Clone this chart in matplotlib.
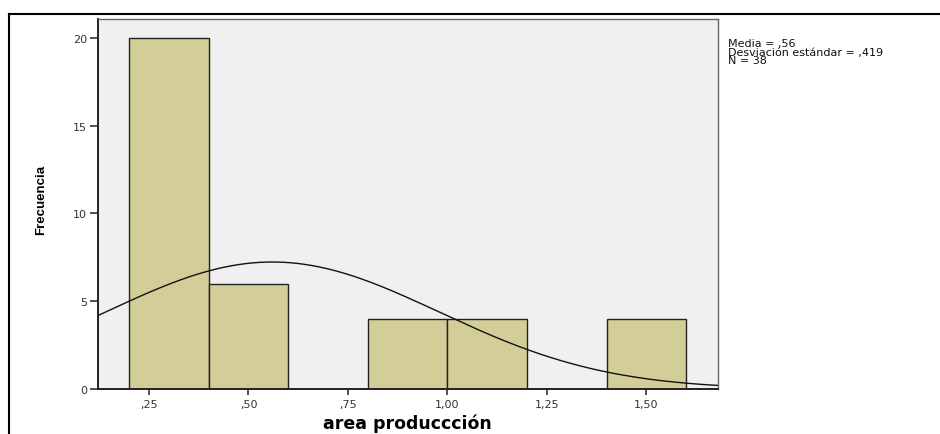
import numpy as np
import matplotlib
matplotlib.use("Agg")
from matplotlib import pyplot as plt
from matplotlib.lines import Line2D

# histogram of area produccion (SPSS style)
bin_edges = [0.2, 0.4, 0.6, 0.8, 1.0, 1.2, 1.4, 1.6]
counts = [20, 6, 0, 4, 4, 0, 4]
media = 0.56
desv = 0.419
n = 38

xticks = [0.25, 0.50, 0.75, 1.00, 1.25, 1.50]
xtick_labels = [",25", ",50", ",75", "1,00", "1,25", "1,50"]
yticks = [0, 5, 10, 15, 20]

plt.rcParams['font.family'] = ['DejaVu Sans']

fig = plt.figure(figsize=(9.4, 4.35), dpi=100)
ax = fig.add_axes([0.1043, 0.1034, 0.6592, 0.8506])
ax.set_facecolor('#F0F0F0')

lefts = np.array(bin_edges[:-1])
widths = np.diff(bin_edges)
for l, w, c in zip(lefts, widths, counts):
    if c > 0:
        ax.bar(l, c, width=w, align='edge', color='#D3CE97',
               edgecolor='#222222', linewidth=1.0, zorder=2)

# normal curve scaled to counts
xmin, xmax = 0.122, 1.679
xs = np.linspace(xmin, xmax, 300)
bw = bin_edges[1] - bin_edges[0]
ys = n * bw * np.exp(-0.5 * ((xs - media) / desv) ** 2) / (desv * np.sqrt(2 * np.pi))
ax.plot(xs, ys, color='#111111', linewidth=1.0, zorder=3)

ax.set_xlim(xmin, xmax)
ax.set_ylim(0, 21.08)
ax.set_xticks(xticks)
ax.set_xticklabels(xtick_labels)
ax.set_yticks(yticks)
ax.tick_params(axis='both', labelsize=8, colors='#333333', width=1.2)
ax.tick_params(axis='x', pad=3, length=4)
ax.tick_params(axis='y', pad=2, length=6)

for side in ['left', 'bottom']:
    ax.spines[side].set_linewidth(1.4)
    ax.spines[side].set_color('#222222')
for side in ['top', 'right']:
    ax.spines[side].set_linewidth(1.0)
    ax.spines[side].set_color('#666666')

ax.set_xlabel('area produccción', fontsize=12.5, fontweight='bold')
ax.xaxis.set_label_coords(0.5, -0.066)
ax.set_ylabel('Frecuencia', fontsize=9.5, fontweight='bold',
              family=['Liberation Sans Narrow', 'Liberation Sans'])
ax.yaxis.set_label_coords(-0.082, 0.514)

fig.text(0.7745, 0.91, 'Media = ,56\nDesviación estándar = ,419\nN = 38',
         fontsize=8, va='top', ha='left', linespacing=0.8, color='#111111')

# outer chart frame
fig.add_artist(Line2D([9 / 940, 1.0], [1 - 15 / 435, 1 - 15 / 435],
                      color='black', linewidth=1.5))
fig.add_artist(Line2D([9 / 940, 9 / 940], [0.0, 1 - 15 / 435],
                      color='black', linewidth=1.5))

fig.savefig('out.png', dpi=100)
